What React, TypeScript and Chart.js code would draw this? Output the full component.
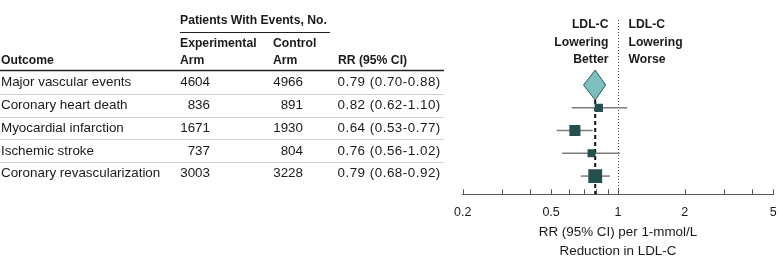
import { useEffect, useRef } from 'react';
import { Chart, registerables } from 'chart.js';

Chart.register(...registerables);

// ---- data ----
const outcomes = [
  'Major vascular events',
  'Coronary heart death',
  'Myocardial infarction',
  'Ischemic stroke',
  'Coronary revascularization',
];
const experimentalEvents = [4604, 836, 1671, 737, 3003];
const controlEvents = [4966, 891, 1930, 804, 3228];
const rr = [0.79, 0.82, 0.64, 0.76, 0.79];
const ciLow = [0.70, 0.62, 0.53, 0.56, 0.68];
const ciHigh = [0.88, 1.10, 0.77, 1.02, 0.92];
const isPooled = [true, false, false, false, false];
const xTicks = [0.2, 0.3, 0.4, 0.5, 0.6, 0.7, 0.8, 0.9, 1, 2, 3, 4, 5];
const xTickLabels = [0.2, 0.5, 1, 2, 5];
const axisTitle = ['RR (95% CI) per 1-mmol/L', 'Reduction in LDL-C'];
const betterLabel = ['LDL-C', 'Lowering', 'Better'];
const worseLabel = ['LDL-C', 'Lowering', 'Worse'];

const FAMILY = "'Liberation Sans', Arial, sans-serif";
const TEXT = '#1a1a1a';
const REG = `13.4px ${FAMILY}`;
const BOLD = `bold 12.2px ${FAMILY}`;

const fmt = (v: number) => v.toFixed(2);

export default function App() {
  const ref = useRef<HTMLCanvasElement>(null);

  useEffect(() => {
    const canvas = ref.current;
    if (!canvas) return;

    const forestPlugin = {
      id: 'forest',
      beforeDatasetsDraw(chart: any) {
        const { ctx, chartArea, scales } = chart;
        const x = scales.x;
        const y = scales.y;
        ctx.save();
        // dotted line of no effect
        const x1 = Math.round(x.getPixelForValue(1)) + 0.5;
        ctx.strokeStyle = '#555';
        ctx.lineWidth = 1;
        ctx.setLineDash([1, 2]);
        ctx.beginPath();
        ctx.moveTo(x1, chartArea.top);
        ctx.lineTo(x1, chartArea.bottom);
        ctx.stroke();

        // pooled estimate dashed line
        const pooledIdx = isPooled.indexOf(true);
        const xp = x.getPixelForValue(rr[pooledIdx]);
        const yp = y.getPixelForValue(pooledIdx);
        ctx.strokeStyle = '#111';
        ctx.lineWidth = 2;
        ctx.setLineDash([4, 3]);
        ctx.beginPath();
        ctx.moveTo(xp, yp + 15);
        ctx.lineTo(xp, chartArea.bottom);
        ctx.stroke();
        ctx.setLineDash([]);

        // CI whiskers
        ctx.strokeStyle = '#7d7d7d';
        ctx.lineWidth = 1.5;
        rr.forEach((_, i) => {
          if (isPooled[i]) return;
          const py = y.getPixelForValue(i);
          ctx.beginPath();
          ctx.moveTo(x.getPixelForValue(ciLow[i]), py);
          ctx.lineTo(x.getPixelForValue(ciHigh[i]), py);
          ctx.stroke();
        });

        // pooled diamond
        ctx.fillStyle = '#7cbfbc';
        ctx.strokeStyle = '#2f5655';
        ctx.lineWidth = 1;
        ctx.beginPath();
        ctx.moveTo(x.getPixelForValue(ciLow[pooledIdx]), yp);
        ctx.lineTo(xp, yp - 15);
        ctx.lineTo(x.getPixelForValue(ciHigh[pooledIdx]), yp);
        ctx.lineTo(xp, yp + 15);
        ctx.closePath();
        ctx.fill();
        ctx.stroke();
        ctx.restore();
      },
      afterDraw(chart: any) {
        const { ctx, chartArea, scales } = chart;
        const x = scales.x;
        const y = scales.y;
        ctx.save();

        // upward tick marks
        ctx.strokeStyle = '#555';
        ctx.lineWidth = 1;
        xTicks.forEach((v) => {
          const px = Math.round(x.getPixelForValue(v)) + 0.5;
          ctx.beginPath();
          ctx.moveTo(px, chartArea.bottom);
          ctx.lineTo(px, chartArea.bottom - 5);
          ctx.stroke();
        });

        // side labels
        const x1 = x.getPixelForValue(1);
        ctx.fillStyle = TEXT;
        ctx.font = BOLD;
        ctx.textBaseline = 'middle';
        betterLabel.forEach((t, k) => {
          ctx.textAlign = 'right';
          ctx.fillText(t, x1 - 9.5, 25 + k * 17.5);
        });
        worseLabel.forEach((t, k) => {
          ctx.textAlign = 'left';
          ctx.fillText(t, x1 + 10.5, 25 + k * 17.5);
        });

        // table
        const rowY = (i: number) => y.getPixelForValue(i) - 2.5;
        const tableRight = 444;
        // header
        ctx.textAlign = 'left';
        ctx.font = BOLD;
        ctx.fillText('Patients With Events, No.', 180, 21);
        ctx.fillText('Experimental', 180, 43.8);
        ctx.fillText('Arm', 180, 61);
        ctx.fillText('Control', 273, 43.8);
        ctx.fillText('Arm', 273, 61);
        ctx.fillText('Outcome', 1, 61);
        ctx.fillText('RR (95% CI)', 338, 61);

        ctx.strokeStyle = '#222';
        ctx.lineWidth = 1;
        ctx.beginPath();
        ctx.moveTo(180, 32.5);
        ctx.lineTo(330, 32.5);
        ctx.stroke();

        ctx.lineWidth = 1.6;
        ctx.beginPath();
        ctx.moveTo(0, rowY(0) - 12);
        ctx.lineTo(tableRight, rowY(0) - 12);
        ctx.stroke();

        ctx.strokeStyle = '#d2d2d2';
        ctx.lineWidth = 1;
        for (let i = 0; i < outcomes.length - 1; i++) {
          const ly = Math.round((rowY(i) + rowY(i + 1)) / 2) + 0.5;
          ctx.beginPath();
          ctx.moveTo(0, ly);
          ctx.lineTo(tableRight, ly);
          ctx.stroke();
        }

        ctx.font = REG;
        ctx.fillStyle = TEXT;
        outcomes.forEach((name, i) => {
          const ty = rowY(i);
          ctx.textAlign = 'left';
          ctx.fillText(name, 1, ty);
          ctx.textAlign = 'right';
          ctx.fillText(String(experimentalEvents[i]), 210, ty);
          ctx.fillText(String(controlEvents[i]), 303, ty);
          ctx.textAlign = 'left';
          (ctx as any).letterSpacing = '0.5px';
          ctx.fillText(`${fmt(rr[i])} (${fmt(ciLow[i])}-${fmt(ciHigh[i])})`, 337.5, ty);
          (ctx as any).letterSpacing = '0px';
        });
        ctx.restore();
      },
    };

    const squareIdx = rr.map((_, i) => i).filter((i) => !isPooled[i]);
    const squareData = squareIdx.map((i) => ({ x: rr[i], y: i }));
    // marker size grows with the number of events (study weight)
    const squareRadius = squareIdx.map(
      (i) => (0.42 * Math.pow(experimentalEvents[i] + controlEvents[i], 0.4)) / (2 * Math.SQRT1_2)
    );

    const chart = new Chart(canvas, {
      type: 'scatter',
      data: {
        datasets: [
          {
            data: squareData,
            pointStyle: 'rect',
            pointRadius: squareRadius,
            pointBorderWidth: 0,
            backgroundColor: '#24504f',
            borderColor: '#24504f',
          },
        ],
      },
      plugins: [forestPlugin],
      options: {
        animation: false,
        responsive: false,
        maintainAspectRatio: false,
        devicePixelRatio: 1,
        events: [],
        layout: { padding: { left: 462.7, right: 7, top: 20, bottom: 8.7 } },
        plugins: { legend: { display: false }, tooltip: { enabled: false } },
        scales: {
          x: {
            type: 'logarithmic',
            min: 0.2,
            max: 5,
            afterBuildTicks: (scale: any) => {
              scale.ticks = xTicks.map((v) => ({ value: v }));
            },
            grid: { display: false, drawTicks: false },
            border: { display: true, color: '#555', width: 1 },
            ticks: {
              autoSkip: false,
              maxRotation: 0,
              padding: 0,
              color: TEXT,
              font: { family: FAMILY, size: 12.5, lineHeight: 36 / 12.5 },
              callback: (v: any) => (xTickLabels.includes(Number(v)) ? String(v) : ''),
            },
            title: {
              display: true,
              text: axisTitle,
              color: TEXT,
              font: { family: FAMILY, size: 13.4, lineHeight: 19.2 / 13.4 },
              padding: { top: -7.4, bottom: 0 },
            },
          },
          y: {
            type: 'linear',
            display: false,
            min: -2.857,
            max: 4.8,
            reverse: true,
          },
        },
      },
    });
    return () => chart.destroy();
  }, []);

  return (
    <div style={{ position: 'absolute', left: 0, top: 0, width: 783, height: 270, background: '#fff' }}>
      <canvas ref={ref} width={783} height={270} style={{ display: 'block', width: 783, height: 270 }} />
    </div>
  );
}
